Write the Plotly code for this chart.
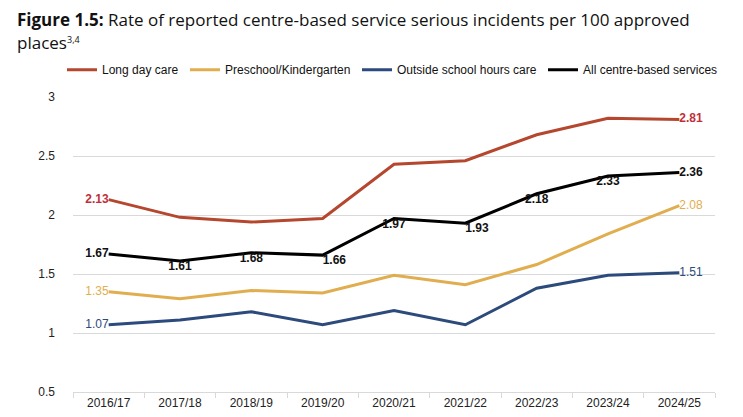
import plotly.graph_objects as go

years = ["2016/17", "2017/18", "2018/19", "2019/20", "2020/21",
         "2021/22", "2022/23", "2023/24", "2024/25"]

long_day_care = [2.13, 1.98, 1.94, 1.97, 2.43, 2.46, 2.68, 2.82, 2.81]
preschool = [1.35, 1.29, 1.36, 1.34, 1.49, 1.41, 1.58, 1.84, 2.08]
oshc = [1.07, 1.11, 1.18, 1.07, 1.19, 1.07, 1.38, 1.49, 1.51]
all_services = [1.67, 1.61, 1.68, 1.66, 1.97, 1.93, 2.18, 2.33, 2.36]

# which points get a value label (first and last for the three service types)
labelled = [0, 8]
all_pos = ["middle left", "bottom center", "bottom center", "bottom right",
           "bottom center", "bottom right", "bottom center", "bottom center",
           "middle right"]

series = [
    ("Long day care", long_day_care, "#B5472F", "#C0303A", True, "legend"),
    ("Preschool/Kindergarten", preschool, "#E1AE4F", "#E1AE4F", False, "legend2"),
    ("Outside school hours care", oshc, "#2C4A7C", "#2C4A7C", False, "legend3"),
]

fig = go.Figure()

for name, vals, col, tcol, bold, leg in series:
    text = []
    pos = []
    for i, v in enumerate(vals):
        if i in labelled:
            t = f"{v:.2f}"
            text.append(f"<b>{t}</b>" if bold else t)
        else:
            text.append("")
        pos.append("middle left" if i == 0 else "middle right")
    fig.add_trace(go.Scatter(
        x=years, y=vals, name=name, mode="lines+text", legend=leg,
        line=dict(color=col, width=3),
        text=text, textposition=pos,
        textfont=dict(color=tcol, size=12, family="Liberation Sans"),
        cliponaxis=False, showlegend=True,
    ))

fig.add_trace(go.Scatter(
    x=years, y=all_services, name="All centre-based services", mode="lines+text",
    legend="legend4",
    line=dict(color="#000000", width=3),
    text=[f"<b>{v:.2f}</b>" for v in all_services], textposition=all_pos,
    textfont=dict(color="#111111", size=12, family="Liberation Sans"),
    cliponaxis=False, showlegend=True,
))

# two-line figure title, one annotation per line (+ the footnote marks)
title_font = dict(family="Open Sans", size=17, color="#111111")
fig.add_annotation(
    text="<b>Figure 1.5:</b> Rate of reported centre-based service serious incidents per 100 approved",
    xref="paper", yref="paper", x=-0.09, y=1.262, xanchor="left", yanchor="middle",
    showarrow=False, font=title_font,
)
fig.add_annotation(
    text="places",
    xref="paper", yref="paper", x=-0.09, y=1.184, xanchor="left", yanchor="middle",
    showarrow=False, font=title_font,
)
fig.add_annotation(
    text="3,4",
    xref="paper", yref="paper", x=-0.012, y=1.196, xanchor="left", yanchor="middle",
    showarrow=False, font=dict(family="Open Sans", size=9, color="#111111"),
)

# one legend per series so the row sits where the reference puts it
leg_x = [54, 177, 349, 535]
leg_style = dict(
    orientation="h", xanchor="left", yanchor="middle",
    xref="container", yref="container", y=0.852,
    font=dict(size=12, color="#111111"), itemwidth=30,
    bgcolor="rgba(0,0,0,0)",
)

fig.update_layout(
    width=743, height=417,
    margin=dict(l=65, r=36, t=89, b=33, autoexpand=False),
    paper_bgcolor="white", plot_bgcolor="white",
    font=dict(family="Liberation Sans", size=12, color="#222222"),
    showlegend=True,
    legend=dict(leg_style, x=leg_x[0] / 743),
    legend2=dict(leg_style, x=leg_x[1] / 743),
    legend3=dict(leg_style, x=leg_x[2] / 743),
    legend4=dict(leg_style, x=leg_x[3] / 743),
    xaxis=dict(
        type="category", range=[-0.5, 8.5], showgrid=False,
        showline=True, linecolor="#d9d9d9", linewidth=1,
        ticks="outside", tickson="boundaries", ticklen=5, tickcolor="#d9d9d9",
        tickfont=dict(size=12, color="#222222"),
    ),
    yaxis=dict(
        range=[0.5, 3], dtick=0.5, showgrid=True, gridcolor="#d9d9d9",
        zeroline=False, showline=False, tickformat="~g",
        tickfont=dict(size=12, color="#222222"), ticks="", ticklabelstandoff=17,
    ),
)

fig.write_html("out.html")
